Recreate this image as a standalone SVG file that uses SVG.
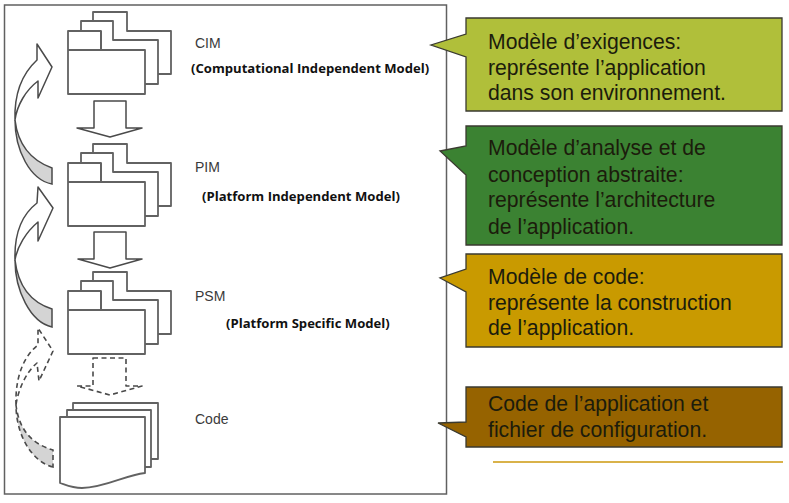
<svg xmlns="http://www.w3.org/2000/svg" width="789" height="503" viewBox="0 0 789 503">
<style>
.s{fill:#fff;stroke:#626262;stroke-width:1.800;stroke-linejoin:round}
.n{fill:none;stroke:#626262;stroke-width:1.800}
.a{fill:#fff;stroke:#4a4a4a;stroke-width:1.500;stroke-linejoin:round}
.g{fill:#d4d4d4;stroke:#4a4a4a;stroke-width:1.500}
.d{stroke-dasharray:5 3.500;stroke-width:1.600}
.l{font-family:"Liberation Sans",Arial,sans-serif;font-size:14px;fill:#3a3a3a}
.b{font-family:"Open Sans","Noto Sans",sans-serif;font-size:13.100px;font-weight:700;fill:#111}
.t{font-family:"Liberation Sans",Arial,sans-serif;font-size:21.200px;fill:#1c1c0c}
.c{stroke:#3a3a30;stroke-width:1.300}
</style>
<defs>
<g id="pkg">
<path class="s" d="M93 41V12H127V31H171V74H93Z"/>
<path class="s" d="M81 50V21H113V40H158V84H81Z"/>
<path class="s" d="M68 94V31H101V50H145V94Z"/>
<path class="n" d="M68 50H145M101 31V50"/>
</g>
</defs>
<rect id="frame" x="4.500" y="5" width="442" height="489" fill="#fff" stroke="#606060" stroke-width="1.500"/>
<g id="cim"><use href="#pkg"/><text class="l" x="195" y="48">CIM</text><text class="b" x="191" y="73">(Computational Independent Model)</text></g>
<g id="pim"><use href="#pkg" y="132"/><text class="l" x="195" y="172">PIM</text><text class="b" x="202" y="201">(Platform Independent Model)</text></g>
<g id="psm"><use href="#pkg" y="260"/><text class="l" x="195" y="301">PSM</text><text class="b" x="226" y="328">(Platform Specific Model)</text></g>
<g id="code">
<path class="s" d="M73 403H158V459H73Z"/>
<path class="s" d="M67 410H151V467H67Z"/>
<path class="s" d="M60 417H145V473C125 475 105 488 82 488C72 488 66 485 60 483Z"/>
<text class="l" x="195" y="424">Code</text>
</g>
<g id="connectors">
<path class="a" d="M94 101H126V128H142L110 137L77 128H94Z"/>
<path class="a" d="M94 232H126V259H142L110 268L78 259H94Z"/>
<path class="a d" d="M93 358H126V386H142L110 395L77 386H93Z"/>
<path class="g" d="M52 184C30 180 15 150 15 120C18 145 30 160 52 168Z"/>
<path class="a" d="M15 120C14 90 24 72 37 60L37 44L52 67L38 98L38 81C26 90 17 105 15 120Z"/>
<path class="g" d="M52 327C30 322 15 290 15 260C18 285 30 302 52 309Z"/>
<path class="a" d="M15 260C14 230 24 213 37 203L38 187L53 208L38 241L38 222C26 232 17 247 15 260Z"/>
<path class="g d" d="M53 467C32 462 16 435 16 405C19 430 32 444 53 450Z"/>
<path class="a d" d="M16 405C15 375 25 355 38 345L38 328L53 351L39 381L37 363C26 372 18 390 16 405Z"/>
</g>
<g id="note1"><path class="c" fill="#b0bf3a" d="M466 18H782V111H466V57L431 45L466 34Z"/><text class="t"><tspan x="488" y="49">Modèle d’exigences:</tspan><tspan x="488" y="75">représente l’application</tspan><tspan x="488" y="100">dans son environnement.</tspan></text></g>
<g id="note2"><path class="c" fill="#3b8232" d="M466 126H782V245H466V175L440 151L466 146Z"/><text class="t"><tspan x="488" y="155">Modèle d’analyse et de</tspan><tspan x="488" y="182">conception abstraite:</tspan><tspan x="488" y="207">représente l’architecture</tspan><tspan x="488" y="234">de l’application.</tspan></text></g>
<g id="note3"><path class="c" fill="#c99a00" d="M466 254H782V347H466V292L440 278L466 269Z"/><text class="t"><tspan x="488" y="284">Modèle de code:</tspan><tspan x="488" y="310">représente la construction</tspan><tspan x="488" y="335">de l’application.</tspan></text></g>
<g id="note4"><path class="c" fill="#966300" d="M466 387H782V447H466V437L438 423L466 422Z"/><text class="t"><tspan x="488" y="411">Code de l’application et</tspan><tspan x="488" y="437">fichier de configuration.</tspan></text></g>
<line id="rule" x1="493" y1="462" x2="783" y2="462" stroke="#d9b24a" stroke-width="2"/>
</svg>
